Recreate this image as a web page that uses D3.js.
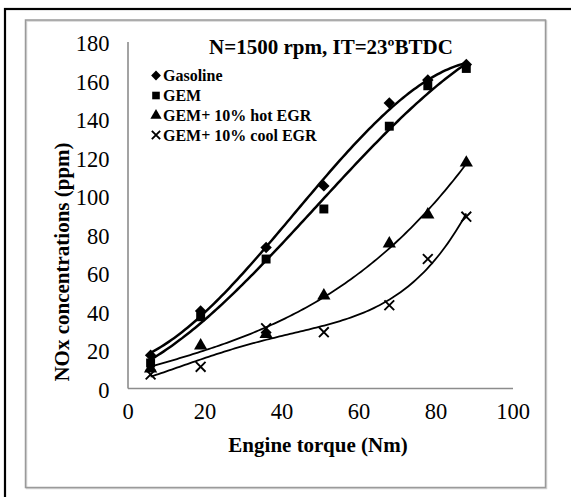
<!DOCTYPE html>
<html>
<head>
<meta charset="utf-8">
<script src="https://cdn.jsdelivr.net/npm/d3@7"></script>
<style>
  html, body { margin: 0; padding: 0; background: #fff; }
  svg { display: block; }
  text { font-family: "Liberation Serif", "Times New Roman", serif; fill: #000; }
</style>
</head>
<body>
<svg id="chart" width="571" height="497"></svg>
<script>
// Engine torque (Nm) at each measuring point
const torque = [6, 19, 36, 51, 68, 78, 88];
// NOx concentrations (ppm) per fuel / EGR configuration
const gasoline = [17, 40, 73, 105, 148, 160, 168];
const gem = [13, 37, 67, 93, 136, 157, 166];
const gemHotEgr = [10, 22, 28, 48, 75, 90, 117];
const gemCoolEgr = [7, 11, 31, 29, 43, 67, 89];

const seriesNames = ["Gasoline", "GEM", "GEM+ 10% hot EGR", "GEM+ 10% cool EGR"];
const xTicks = [0, 20, 40, 60, 80, 100];
const yTicks = [0, 20, 40, 60, 80, 100, 120, 140, 160, 180];
const chartTitle = "N=1500 rpm, IT=23ºBTDC";
const xTitle = "Engine torque (Nm)";
const yTitle = "NOx concentrations (ppm)";

// each series gets a polynomial trendline of the given order
const series = [
  { name: seriesNames[0], values: gasoline,   symbol: "diamond",  width: 2.5, order: 3 },
  { name: seriesNames[1], values: gem,        symbol: "square",   width: 2.5, order: 3 },
  { name: seriesNames[2], values: gemHotEgr,  symbol: "triangle", width: 1.8, order: 3 },
  { name: seriesNames[3], values: gemCoolEgr, symbol: "cross",    width: 1.8, order: 4 }
];

const svg = d3.select("#chart");

// outer black frame (runs past the right and bottom edges)
svg.append("rect")
  .attr("x", 5).attr("y", 9).attr("width", 620).attr("height", 620)
  .attr("fill", "none").attr("stroke", "#000").attr("stroke-width", 2.2);

// chart area frame with a faint shadow
svg.append("rect")
  .attr("x", 26.5).attr("y", 21).attr("width", 520).attr("height", 467.5)
  .attr("fill", "none").attr("stroke", "#d4d4d4").attr("stroke-width", 1.5);
svg.append("rect")
  .attr("x", 25.5).attr("y", 20).attr("width", 520).attr("height", 467.5)
  .attr("fill", "none").attr("stroke", "#9a9a9a").attr("stroke-width", 1.5);

const x = d3.scaleLinear().domain([0, 100]).range([127.5, 512.5]);
const y = d3.scaleLinear().domain([0, 180]).range([388, 41.5]);

// axes
const xAxis = svg.append("g")
  .attr("transform", `translate(0,${y(0)})`)
  .call(d3.axisBottom(x).tickValues(xTicks).tickSize(0).tickPadding(15));
const yAxis = svg.append("g")
  .attr("transform", `translate(${x(0)},0)`)
  .call(d3.axisLeft(y).tickValues(yTicks).tickSize(0).tickPadding(18));

[xAxis, yAxis].forEach(g => {
  g.select(".domain").attr("stroke", "#8c8c8c").attr("stroke-width", 1.6);
  g.selectAll("text")
    .style("font-family", "'Liberation Serif', 'Times New Roman', serif")
    .style("font-size", "22.5px")
    .attr("fill", "#000");
});
yAxis.selectAll("text").attr("dy", "0.42em");
xAxis.selectAll("text").attr("dy", "0.71em");

// least-squares polynomial trendline for one series
function polyFit(xs, ys, order) {
  const n = order + 1;
  const s = 50; // scale torque for a well-conditioned system
  const A = Array.from({ length: n }, () => new Array(n + 1).fill(0));
  xs.forEach((xv, k) => {
    const t = xv / s;
    for (let i = 0; i < n; i++) {
      for (let j = 0; j < n; j++) A[i][j] += Math.pow(t, i + j);
      A[i][n] += ys[k] * Math.pow(t, i);
    }
  });
  for (let c = 0; c < n; c++) {
    let p = c;
    for (let r = c + 1; r < n; r++) if (Math.abs(A[r][c]) > Math.abs(A[p][c])) p = r;
    [A[c], A[p]] = [A[p], A[c]];
    for (let r = 0; r < n; r++) {
      if (r === c) continue;
      const f = A[r][c] / A[c][c];
      for (let k = c; k <= n; k++) A[r][k] -= f * A[c][k];
    }
  }
  const coef = A.map((row, i) => row[n] / row[i]);
  return v => coef.reduce((acc, c, i) => acc + c * Math.pow(v / s, i), 0);
}

const line = d3.line().x(d => x(d[0])).y(d => y(d[1]));
const tMin = d3.min(torque), tMax = d3.max(torque);
const samples = d3.range(0, 121).map(i => tMin + (tMax - tMin) * i / 120);

series.forEach(s => {
  const f = polyFit(torque, s.values, s.order);
  svg.append("path")
    .datum(samples.map(t => [t, f(t)]))
    .attr("d", line)
    .attr("fill", "none")
    .attr("stroke", "#000")
    .attr("stroke-width", s.width)
    .attr("stroke-linejoin", "round");
});

// marker shapes
const symbolDefs = {
  diamond:  d3.symbol().type(d3.symbolDiamond2).size(84),
  square:   d3.symbol().type(d3.symbolSquare).size(80),
  triangle: d3.symbol().type(d3.symbolTriangle).size(76),
  cross:    d3.symbol().type(d3.symbolTimes).size(64)
};

function drawMarker(g, symbol, cx, cy, k) {
  const p = g.append("path")
    .attr("d", symbolDefs[symbol]())
    .attr("transform", `translate(${cx},${cy}) scale(${k})`);
  if (symbol === "cross") {
    p.attr("fill", "none").attr("stroke", "#000").attr("stroke-width", 1.9 / k);
  } else {
    p.attr("fill", "#000");
  }
}

const markers = svg.append("g");
series.forEach(s => {
  torque.forEach((t, i) => drawMarker(markers, s.symbol, x(t), y(s.values[i]), 1));
});

// chart title
svg.append("text")
  .attr("x", 331).attr("y", 47)
  .attr("text-anchor", "middle").attr("dy", "0.35em")
  .style("font-size", "21px").style("font-weight", "bold")
  .text(chartTitle);

// legend
const legendY = [75.5, 95.5, 115.5, 135];
const legend = svg.append("g");
series.forEach((s, i) => {
  const cy = legendY[i];
  const lg = legend.append("g");
  drawMarker(lg, s.symbol, 156, cy, 0.85);
  lg.append("text")
    .attr("x", 163).attr("y", cy).attr("dy", "0.35em")
    .style("font-size", "16px").style("font-weight", "bold")
    .text(s.name);
});

// axis titles
svg.append("text")
  .attr("x", 318).attr("y", 445).attr("dy", "0.35em")
  .attr("text-anchor", "middle")
  .style("font-size", "21px").style("font-weight", "bold")
  .text(xTitle);

svg.append("text")
  .attr("transform", "translate(62,262) rotate(-90)")
  .attr("dy", "0.35em")
  .attr("text-anchor", "middle")
  .style("font-size", "21px").style("font-weight", "bold")
  .text(yTitle);
</script>
</body>
</html>
